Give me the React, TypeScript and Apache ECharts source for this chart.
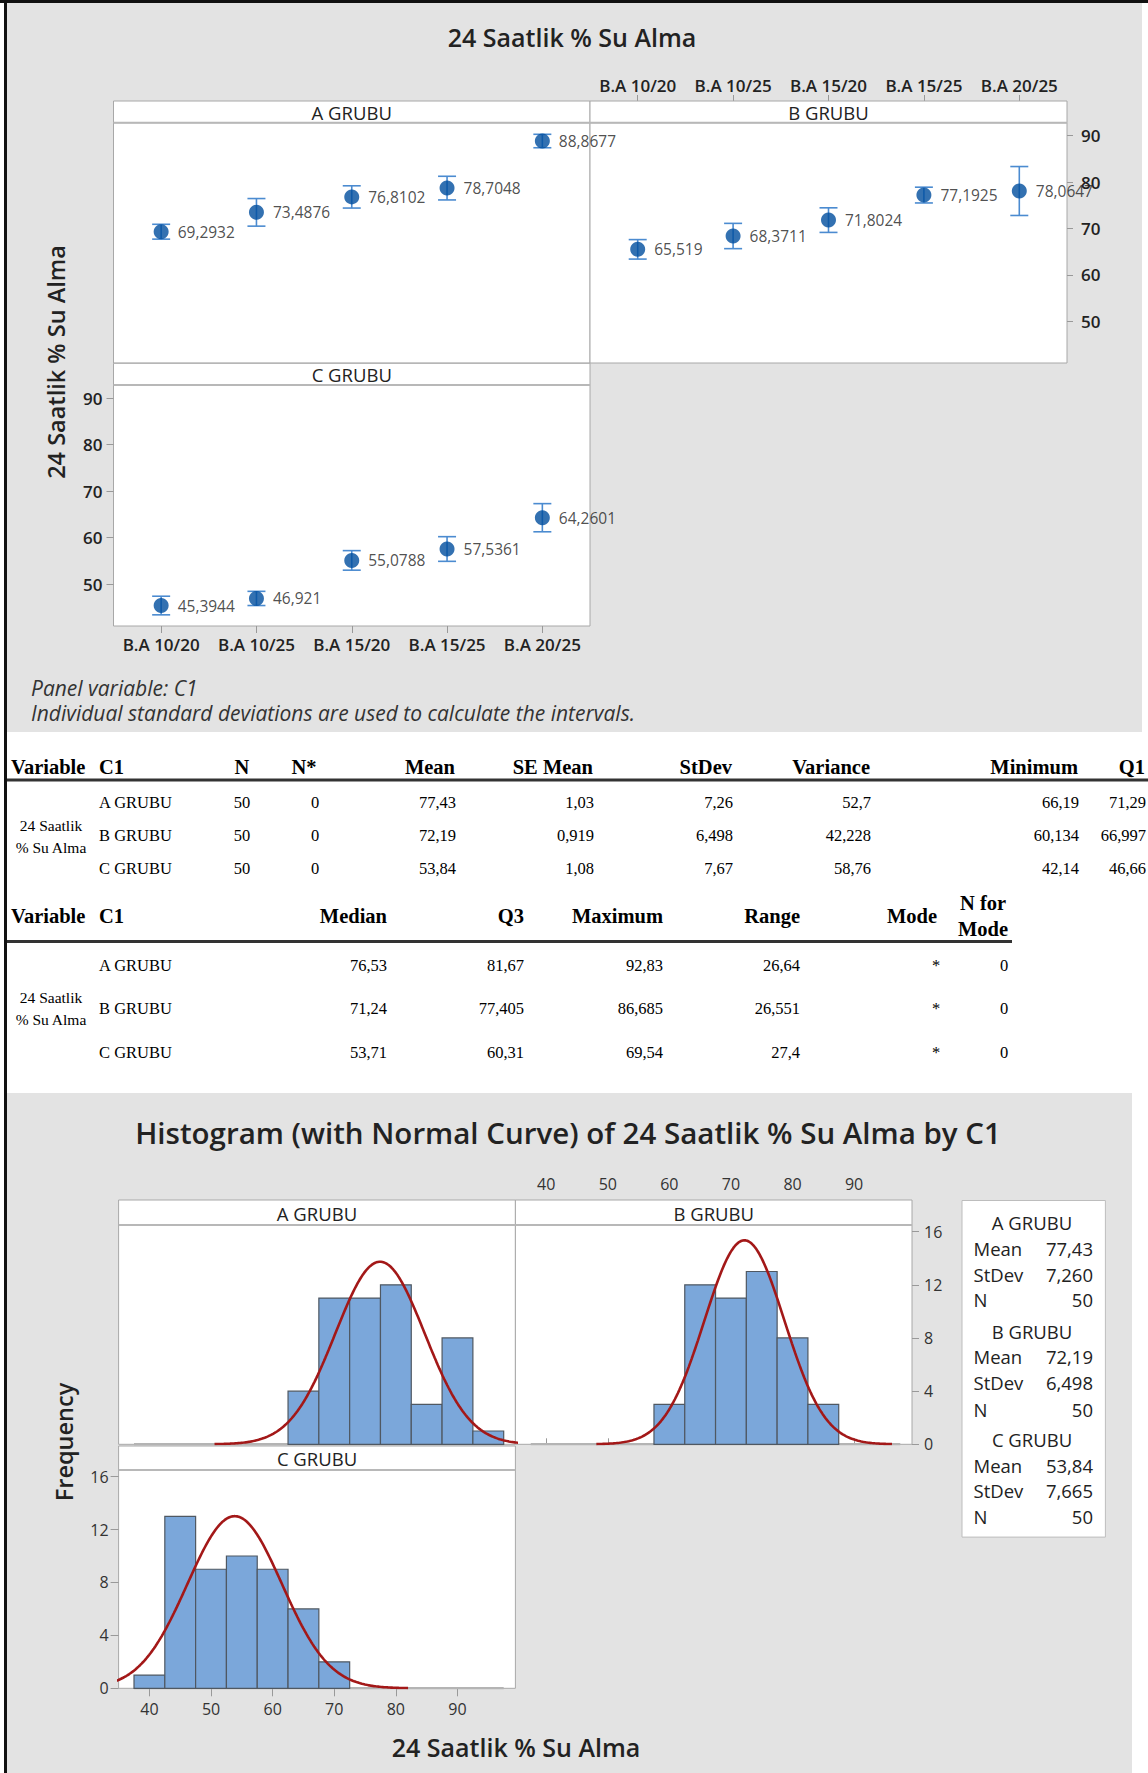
import React, { useEffect, useRef } from "react";
import * as echarts from "echarts";

// ---------- DATA ----------
const categories = ["B.A 10/20", "B.A 10/25", "B.A 15/20", "B.A 15/25", "B.A 20/25"];
const groups = ["A GRUBU", "B GRUBU", "C GRUBU"];

const meanA = [69.2932, 73.4876, 76.8102, 78.7048, 88.8677];
const lowA = [67.7, 70.5, 74.4, 76.15, 87.4];
const highA = [70.9, 76.45, 79.2, 81.25, 90.3];

const meanB = [65.519, 68.3711, 71.8024, 77.1925, 78.0647];
const lowB = [63.4, 65.65, 69.15, 75.5, 72.8];
const highB = [67.6, 71.1, 74.45, 78.9, 83.35];

const meanC = [45.3944, 46.921, 55.0788, 57.5361, 64.2601];
const lowC = [43.4, 45.4, 53.0, 54.9, 61.25];
const highC = [47.4, 48.45, 57.2, 60.2, 67.3];

const intervalTicks = [50, 60, 70, 80, 90];

// descriptive statistics table
const tblN = ["50", "50", "50"];
const tblNStar = ["0", "0", "0"];
const tblMean = ["77,43", "72,19", "53,84"];
const tblSEMean = ["1,03", "0,919", "1,08"];
const tblStDev = ["7,26", "6,498", "7,67"];
const tblVariance = ["52,7", "42,228", "58,76"];
const tblMinimum = ["66,19", "60,134", "42,14"];
const tblQ1 = ["71,29", "66,997", "46,66"];
const tblMedian = ["76,53", "71,24", "53,71"];
const tblQ3 = ["81,67", "77,405", "60,31"];
const tblMaximum = ["92,83", "86,685", "69,54"];
const tblRange = ["26,64", "26,551", "27,4"];
const tblMode = ["*", "*", "*"];
const tblNForMode = ["0", "0", "0"];

// histogram
const binWidth = 5;
const binCentersA = [65, 70, 75, 80, 85, 90, 95];
const countsA = [4, 11, 11, 12, 3, 8, 1];
const binCentersB = [60, 65, 70, 75, 80, 85];
const countsB = [3, 12, 11, 13, 8, 3];
const binCentersC = [40, 45, 50, 55, 60, 65, 70];
const countsC = [1, 13, 9, 10, 9, 6, 2];
const histMean = [77.43, 72.19, 53.84];
const histStDev = [7.26, 6.498, 7.665];
const histN = [50, 50, 50];
const legendMean = ["77,43", "72,19", "53,84"];
const legendStDev = ["7,260", "6,498", "7,665"];
const legendN = ["50", "50", "50"];
const histXTicks = [40, 50, 60, 70, 80, 90];
const histYTicks = [0, 4, 8, 12, 16];
const baselineRange = [37.5, 97.5];

// ---------- STYLE ----------
const FONT = "'Open Sans', 'Noto Sans', sans-serif";
const SERIF = "'Liberation Serif', 'Times New Roman', serif";
const GRAY_BG = "#e3e3e3";
const FRAME = "#a8a8a8";
const DOT = "#004e9e";
const ERR = "#4b8bd0";
const BAR = "#7ba7da";
const BAR_EDGE = "#4f5862";
const CURVE = "#a31818";

const fmt = (v: number) => String(v).replace(".", ",");

function normalCurve(mu: number, sd: number, n: number) {
  const pts: number[][] = [];
  const peak = (n * binWidth) / (sd * Math.sqrt(2 * Math.PI));
  for (let x = mu - 3.7 * sd; x <= mu + 3.7 * sd + 1e-9; x += 0.25) {
    const z = (x - mu) / sd;
    pts.push([x, peak * Math.exp(-0.5 * z * z)]);
  }
  return pts;
}

function txt(text: string, x: number, y: number, o: any = {}) {
  return {
    type: "text",
    x,
    y,
    rotation: o.rotation || 0,
    silent: true,
    z: 100,
    style: {
      text,
      fill: o.fill || "#222",
      fontSize: o.size || 16,
      fontFamily: o.family || FONT,
      fontWeight: o.weight || "normal",
      fontStyle: o.style || "normal",
      align: o.align || "left",
      verticalAlign: "middle",
    },
  };
}

function rect(x: number, y: number, w: number, h: number, fill: string, stroke?: string, lw = 1, z = 0) {
  return {
    type: "rect",
    silent: true,
    z,
    shape: { x, y, width: w, height: h },
    style: { fill, stroke: stroke || "none", lineWidth: lw },
  };
}

export default function App() {
  const ref = useRef<HTMLDivElement>(null);

  useEffect(() => {
    if (!ref.current) return;
    const chart = echarts.init(ref.current, undefined, { renderer: "svg" });

    // grids: 0 A, 1 B, 2 C (interval plot); 3 A, 4 B, 5 C (histogram)
    const grids = [
      { left: 113.5, top: 122.7, width: 476.5, height: 240.3 },
      { left: 590, top: 122.7, width: 477, height: 240.3 },
      { left: 113.5, top: 385, width: 476.5, height: 241 },
      { left: 118.6, top: 1225, width: 396.8, height: 219.3 },
      { left: 515.4, top: 1225, width: 396.6, height: 219.3 },
      { left: 118.6, top: 1470, width: 396.8, height: 218.3 },
    ].map((g) => ({
      ...g,
      show: true,
      backgroundColor: "#ffffff",
      borderColor: FRAME,
      borderWidth: 1,
      containLabel: false,
    }));

    const tickLabel = { fontFamily: FONT, fontSize: 17, fontWeight: 600, color: "#222" };
    const histLabel = { fontFamily: FONT, fontSize: 16, color: "#333" };

    const xAxis: any[] = [
      { gridIndex: 0, type: "category", data: categories, show: false },
      {
        gridIndex: 1,
        type: "category",
        data: categories,
        position: "top",
        offset: 21.7,
        axisLine: { show: false },
        axisTick: { show: true, length: 6, alignWithLabel: true, lineStyle: { color: "#999" } },
        axisLabel: { ...tickLabel, margin: 7, interval: 0 },
        splitLine: { show: false },
      },
      {
        gridIndex: 2,
        type: "category",
        data: categories,
        position: "bottom",
        axisLine: { show: false },
        axisTick: { show: true, length: 7, alignWithLabel: true, lineStyle: { color: "#999" } },
        axisLabel: { ...tickLabel, margin: 10, interval: 0 },
        splitLine: { show: false },
      },
      { gridIndex: 3, type: "value", min: 35, max: 99.4, show: false },
      {
        gridIndex: 4,
        type: "value",
        min: 35,
        max: 99.4,
        position: "top",
        offset: 25,
        axisLine: { show: false },
        axisTick: { show: true, length: 6, customValues: histXTicks, lineStyle: { color: "#999" } },
        axisLabel: { ...histLabel, margin: 8, customValues: histXTicks },
        splitLine: { show: false },
      },
      {
        gridIndex: 5,
        type: "value",
        min: 35,
        max: 99.4,
        position: "bottom",
        axisLine: { show: false },
        axisTick: { show: true, length: 8, customValues: histXTicks, lineStyle: { color: "#999" } },
        axisLabel: { ...histLabel, margin: 13, customValues: histXTicks },
        splitLine: { show: false },
      },
    ];

    const yAxis: any[] = [
      { gridIndex: 0, type: "value", min: 41, max: 92.8, show: false },
      {
        gridIndex: 1,
        type: "value",
        min: 41,
        max: 92.8,
        position: "right",
        axisLine: { show: false },
        axisTick: { show: true, length: 6, customValues: intervalTicks, lineStyle: { color: "#999" } },
        axisLabel: { ...tickLabel, margin: 14, customValues: intervalTicks },
        splitLine: { show: false },
      },
      {
        gridIndex: 2,
        type: "value",
        min: 41,
        max: 92.8,
        position: "left",
        axisLine: { show: false },
        axisTick: { show: true, length: 7, customValues: intervalTicks, lineStyle: { color: "#999" } },
        axisLabel: { ...tickLabel, margin: 11, customValues: intervalTicks },
        splitLine: { show: false },
      },
      { gridIndex: 3, type: "value", min: 0, max: 16.5, show: false },
      {
        gridIndex: 4,
        type: "value",
        min: 0,
        max: 16.5,
        position: "right",
        axisLine: { show: false },
        axisTick: { show: true, length: 7, customValues: histYTicks, lineStyle: { color: "#999" } },
        axisLabel: { ...histLabel, margin: 12, customValues: histYTicks },
        splitLine: { show: false },
      },
      {
        gridIndex: 5,
        type: "value",
        min: 0,
        max: 16.5,
        position: "left",
        axisLine: { show: false },
        axisTick: { show: true, length: 8, customValues: histYTicks, lineStyle: { color: "#999" } },
        axisLabel: { ...histLabel, margin: 10, customValues: histYTicks },
        splitLine: { show: false },
      },
    ];

    const series: any[] = [];
    const ivData = [
      [meanA, lowA, highA],
      [meanB, lowB, highB],
      [meanC, lowC, highC],
    ];
    ivData.forEach(([mean, low, high], i) => {
      series.push({
        type: "custom",
        xAxisIndex: i,
        yAxisIndex: i,
        z: 2,
        silent: true,
        encode: { x: 0, y: [1, 2] },
        data: categories.map((_, j) => [j, low[j], high[j]]),
        renderItem: (_p: any, api: any) => {
          const j = api.value(0);
          const top = api.coord([j, api.value(2)]);
          const bot = api.coord([j, api.value(1)]);
          const w = 9;
          const st = { stroke: ERR, lineWidth: 1.6 };
          return {
            type: "group",
            children: [
              { type: "line", shape: { x1: top[0], y1: top[1], x2: bot[0], y2: bot[1] }, style: st },
              { type: "line", shape: { x1: top[0] - w, y1: top[1], x2: top[0] + w, y2: top[1] }, style: st },
              { type: "line", shape: { x1: bot[0] - w, y1: bot[1], x2: bot[0] + w, y2: bot[1] }, style: st },
            ],
          };
        },
      });
      series.push({
        type: "scatter",
        xAxisIndex: i,
        yAxisIndex: i,
        z: 3,
        symbol: "circle",
        symbolSize: 15,
        itemStyle: { color: DOT },
        data: categories.map((_, j) => [j, mean[j]]),
        label: {
          show: true,
          position: "right",
          distance: 9,
          fontFamily: FONT,
          fontSize: 15.5,
          color: "#222",
          formatter: (p: any) => fmt(p.value[1]),
        },
      });
    });

    const hist = [
      [binCentersA, countsA],
      [binCentersB, countsB],
      [binCentersC, countsC],
    ];
    hist.forEach(([centers, counts], i) => {
      const ax = 3 + i;
      series.push({
        type: "line",
        xAxisIndex: ax,
        yAxisIndex: ax,
        z: 1,
        silent: true,
        showSymbol: false,
        lineStyle: { color: "#b4b4b4", width: 2.5 },
        data: baselineRange.map((x) => [x, 0]),
      });
      series.push({
        type: "custom",
        xAxisIndex: ax,
        yAxisIndex: ax,
        z: 2,
        silent: true,
        encode: { x: [0, 1], y: 2 },
        data: centers.map((c, j) => [c - binWidth / 2, c + binWidth / 2, counts[j]]),
        renderItem: (_p: any, api: any) => {
          const p0 = api.coord([api.value(0), api.value(2)]);
          const p1 = api.coord([api.value(1), 0]);
          return {
            type: "rect",
            shape: { x: p0[0], y: p0[1], width: p1[0] - p0[0], height: p1[1] - p0[1] },
            style: { fill: BAR, stroke: BAR_EDGE, lineWidth: 1.2 },
          };
        },
      });
      series.push({
        type: "line",
        xAxisIndex: ax,
        yAxisIndex: ax,
        z: 4,
        silent: true,
        showSymbol: false,
        clip: true,
        lineStyle: { color: CURVE, width: 2.6 },
        data: normalCurve(histMean[i], histStDev[i], histN[i]),
      });
    });

    // ---------- graphic (backgrounds, strips, titles, table, legend) ----------
    const g: any[] = [];
    g.push(rect(7, 3, 1135, 729, GRAY_BG, undefined, 0, -10));
    g.push(rect(7, 1093, 1125, 680, GRAY_BG, undefined, 0, -10));
    g.push(rect(0, 0, 1148, 3, "#111", undefined, 0, 50));
    g.push(rect(4, 0, 3, 1773, "#111", undefined, 0, 50));

    const strip = (x: number, y: number, w: number, h: number, label: string, size: number) => {
      g.push(rect(x, y, w, h, "#ffffff", FRAME, 1, 5));
      g.push({ type: "line", silent: true, z: 6, shape: { x1: x, y1: y + h, x2: x + w, y2: y + h }, style: { stroke: "#b8b8b8", lineWidth: 2 } });
      g.push(txt(label, x + w / 2, y + h / 2 + 0.5, { size, align: "center", fill: "#222" }));
    };
    strip(113.5, 101, 476.5, 21.7, groups[0], 18.5);
    strip(590, 101, 477, 21.7, groups[1], 18.5);
    strip(113.5, 363.3, 476.5, 21.7, groups[2], 18.5);

    g.push(txt("24 Saatlik % Su Alma", 572, 37, { size: 25, weight: 600, align: "center", fill: "#222" }));
    g.push(txt("24 Saatlik % Su Alma", 56, 362, { size: 23.5, weight: 600, align: "center", rotation: Math.PI / 2, fill: "#222" }));
    g.push(txt("Panel variable: C1", 31, 688, { size: 21, style: "italic", fill: "#333" }));
    g.push(txt("Individual standard deviations are used to calculate the intervals.", 31, 713, { size: 21, style: "italic", fill: "#333" }));

    // table
    const H = { family: SERIF, size: 20.5, weight: "bold", fill: "#000" };
    const D = { family: SERIF, size: 16.5, fill: "#000" };
    const V = { family: SERIF, size: 15.5, fill: "#000", align: "center" };
    const h1y = 767;
    g.push(txt("Variable", 11, h1y, H));
    g.push(txt("C1", 99, h1y, H));
    g.push(txt("N", 242, h1y, { ...H, align: "center" }));
    g.push(txt("N*", 304, h1y, { ...H, align: "center" }));
    const cols1: [string, number, string[]][] = [
      ["Mean", 455, tblMean],
      ["SE Mean", 593, tblSEMean],
      ["StDev", 732, tblStDev],
      ["Variance", 870, tblVariance],
      ["Minimum", 1078, tblMinimum],
      ["Q1", 1145, tblQ1],
    ];
    cols1.forEach(([h, x]) => g.push(txt(h, x, h1y, { ...H, align: "right" })));
    g.push(rect(6, 778.5, 1142, 3, "#333", undefined, 0, 20));
    const r1 = [802, 835, 868];
    groups.forEach((grp, i) => {
      g.push(txt(grp, 99, r1[i], D));
      g.push(txt(tblN[i], 242, r1[i], { ...D, align: "center" }));
      g.push(txt(tblNStar[i], 315, r1[i], { ...D, align: "center" }));
      cols1.forEach(([, x, arr]) => g.push(txt(arr[i], x + 1, r1[i], { ...D, align: "right" })));
    });
    g.push(txt("24 Saatlik", 51, 825, V));
    g.push(txt("% Su Alma", 51, 847, V));

    const h2y = 916;
    g.push(txt("Variable", 11, h2y, H));
    g.push(txt("C1", 99, h2y, H));
    const cols2: [string, number, string[]][] = [
      ["Median", 387, tblMedian],
      ["Q3", 524, tblQ3],
      ["Maximum", 663, tblMaximum],
      ["Range", 800, tblRange],
    ];
    cols2.forEach(([h, x]) => g.push(txt(h, x, h2y, { ...H, align: "right" })));
    g.push(txt("Mode", 937, h2y, { ...H, align: "right" }));
    g.push(txt("N for", 983, 903, { ...H, align: "center" }));
    g.push(txt("Mode", 983, 929, { ...H, align: "center" }));
    g.push(rect(6, 940, 1006, 3, "#333", undefined, 0, 20));
    const r2 = [965, 1008, 1052];
    groups.forEach((grp, i) => {
      g.push(txt(grp, 99, r2[i], D));
      cols2.forEach(([, x, arr]) => g.push(txt(arr[i], x, r2[i], { ...D, align: "right" })));
      g.push(txt(tblMode[i], 936, r2[i], { ...D, align: "center" }));
      g.push(txt(tblNForMode[i], 1004, r2[i], { ...D, align: "center" }));
    });
    g.push(txt("24 Saatlik", 51, 997, V));
    g.push(txt("% Su Alma", 51, 1019, V));

    // histogram strips & titles
    strip(118.6, 1200, 396.8, 25, groups[0], 18.5);
    strip(515.4, 1200, 396.6, 25, groups[1], 18.5);
    strip(118.6, 1446, 396.8, 24, groups[2], 18.5);
    g.push(txt("Histogram (with Normal Curve) of 24 Saatlik % Su Alma by C1", 568, 1132, { size: 29.5, weight: 600, align: "center", fill: "#222" }));
    g.push(txt("Frequency", 64, 1442, { size: 23.5, weight: 600, align: "center", rotation: Math.PI / 2, fill: "#222" }));
    g.push(txt("24 Saatlik % Su Alma", 516, 1747, { size: 25, weight: 600, align: "center", fill: "#222" }));

    // legend box
    g.push(rect(962, 1200.5, 143.4, 336.6, "#ffffff", "#bdbdbd", 1, 5));
    const lg = [
      [1222, 1248, 1274, 1299.5],
      [1331, 1356.5, 1382.5, 1409],
      [1439, 1465.5, 1490.5, 1516.5],
    ];
    groups.forEach((grp, i) => {
      const L = { size: 18.5, fill: "#222" };
      g.push(txt(grp, 1032, lg[i][0], { ...L, align: "center" }));
      g.push(txt("Mean", 973.5, lg[i][1], L));
      g.push(txt(legendMean[i], 1093, lg[i][1], { ...L, align: "right" }));
      g.push(txt("StDev", 973.5, lg[i][2], L));
      g.push(txt(legendStDev[i], 1093, lg[i][2], { ...L, align: "right" }));
      g.push(txt("N", 973.5, lg[i][3], L));
      g.push(txt(legendN[i], 1093, lg[i][3], { ...L, align: "right" }));
    });

    chart.setOption({
      animation: false,
      backgroundColor: "#ffffff",
      textStyle: { fontFamily: FONT },
      grid: grids,
      xAxis,
      yAxis,
      series,
      graphic: { elements: g },
    });

    return () => chart.dispose();
  }, []);

  return (
    <div
      ref={ref}
      style={{ position: "absolute", left: 0, top: 0, width: 1148, height: 1773 }}
    />
  );
}
